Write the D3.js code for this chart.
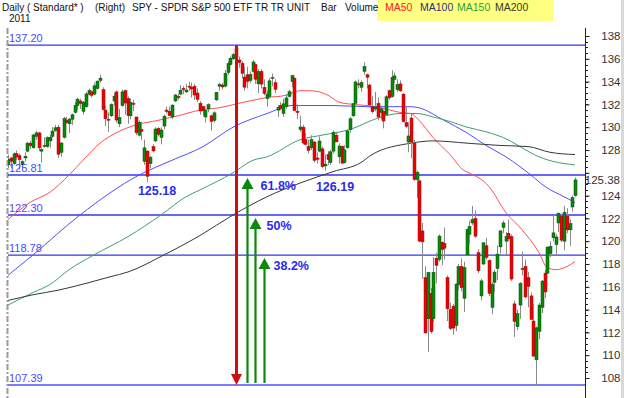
<!DOCTYPE html>
<html>
<head>
<meta charset="utf-8">
<script src="https://cdn.jsdelivr.net/npm/d3@7"></script>
<style>
  body { margin: 0; background: #fff; }
  svg text { font-family: "Liberation Sans", Arial, sans-serif; }
</style>
</head>
<body>
<svg id="chart" width="624" height="398"></svg>
<script>
// SPY daily 2011, Jan 3 .. Oct 24
const dates = [
  "01-03","01-04","01-05","01-06","01-07","01-10","01-11","01-12","01-13","01-14",
  "01-18","01-19","01-20","01-21","01-24","01-25","01-26","01-27","01-28","01-31",
  "02-01","02-02","02-03","02-04","02-07","02-08","02-09","02-10","02-11","02-14",
  "02-15","02-16","02-17","02-18","02-22","02-23","02-24","02-25","02-28","03-01",
  "03-02","03-03","03-04","03-07","03-08","03-09","03-10","03-11","03-14","03-15",
  "03-16","03-17","03-18","03-21","03-22","03-23","03-24","03-25","03-28","03-29",
  "03-30","03-31","04-01","04-04","04-05","04-06","04-07","04-08","04-11","04-12",
  "04-13","04-14","04-15","04-18","04-19","04-20","04-21","04-25","04-26","04-27",
  "04-28","04-29","05-02","05-03","05-04","05-05","05-06","05-09","05-10","05-11",
  "05-12","05-13","05-16","05-17","05-18","05-19","05-20","05-23","05-24","05-25",
  "05-26","05-27","05-31","06-01","06-02","06-03","06-06","06-07","06-08","06-09",
  "06-10","06-13","06-14","06-15","06-16","06-17","06-20","06-21","06-22","06-23",
  "06-24","06-27","06-28","06-29","06-30","07-01","07-05","07-06","07-07","07-08",
  "07-11","07-12","07-13","07-14","07-15","07-18","07-19","07-20","07-21","07-22",
  "07-25","07-26","07-27","07-28","07-29","08-01","08-02","08-03","08-04","08-05",
  "08-08","08-09","08-10","08-11","08-12","08-15","08-16","08-17","08-18","08-19",
  "08-22","08-23","08-24","08-25","08-26","08-29","08-30","08-31","09-01","09-02",
  "09-06","09-07","09-08","09-09","09-12","09-13","09-14","09-15","09-16","09-19",
  "09-20","09-21","09-22","09-23","09-26","09-27","09-28","09-29","09-30","10-03",
  "10-04","10-05","10-06","10-07","10-10","10-11","10-12","10-13","10-14","10-17",
  "10-18","10-19","10-20","10-21","10-24"
];

const openP = [
  126.70,127.30,126.80,127.70,127.50,126.70,127.30,127.90,128.60,128.20,
  129.20,129.50,127.90,128.40,128.30,128.80,129.20,129.70,130.00,127.80,
  129.10,130.60,130.30,130.70,131.30,131.90,132.30,131.40,131.80,132.90,
  133.10,132.90,133.40,134.10,133.30,131.50,130.70,131.00,132.30,133.10,
  130.30,131.90,133.20,132.50,131.00,132.10,130.90,129.30,129.80,127.00,
  127.90,126.80,128.30,128.80,129.90,129.10,130.10,131.50,131.40,130.90,
  132.30,132.70,132.90,133.40,133.10,133.60,133.50,133.60,133.00,132.10,
  131.80,130.90,131.60,131.00,130.60,132.40,133.60,133.70,133.60,134.80,
  135.50,136.00,136.90,135.90,135.60,134.40,134.60,134.10,134.90,135.50,
  133.80,134.90,133.50,132.50,132.70,134.30,133.90,131.50,131.90,131.20,
  131.80,132.70,134.00,134.30,131.40,129.80,130.00,128.90,128.30,128.20,
  128.70,127.30,127.90,128.10,126.60,127.60,126.90,127.90,129.30,127.40,
  128.30,126.90,128.20,129.80,131.00,132.10,133.80,133.50,134.90,134.60,
  133.70,131.80,131.60,132.10,131.30,131.40,131.10,133.20,132.70,134.20,
  133.30,133.80,132.90,130.40,128.70,130.80,128.60,125.40,125.30,120.90,
  116.80,113.20,115.40,113.20,118.50,118.40,119.90,119.80,116.80,114.00,
  114.30,112.60,116.20,117.80,115.00,118.80,120.60,121.60,122.00,119.00,
  115.20,118.00,119.60,118.30,114.20,116.40,117.60,119.50,121.20,120.00,
  120.70,120.40,114.50,112.50,114.40,117.60,117.80,116.80,115.20,113.00,
  109.60,112.10,114.20,117.20,117.20,118.90,120.30,119.70,121.60,122.20,
  120.00,122.20,121.00,123.00,124.00
];

const highP = [
  127.60,127.40,127.80,127.95,127.70,127.10,127.80,128.70,128.80,129.40,
  129.70,129.60,128.20,129.10,129.20,129.30,130.00,130.20,130.20,128.70,
  130.90,130.90,130.80,131.20,132.20,132.60,132.50,132.30,133.10,133.40,
  133.20,133.90,134.10,134.60,133.50,131.90,131.30,132.10,133.00,133.20,
  131.60,133.30,133.30,132.70,132.50,132.40,130.90,130.60,130.50,128.90,
  128.00,127.50,128.50,130.00,130.00,130.00,131.10,131.80,131.80,132.00,
  132.90,132.90,133.70,133.60,133.80,134.00,133.90,133.80,133.40,132.30,
  131.90,131.60,132.10,131.10,131.40,133.10,133.90,133.90,135.00,135.80,
  136.20,136.50,137.20,136.20,135.80,135.30,135.30,134.90,135.90,135.60,
  135.10,135.10,134.20,133.20,134.30,134.70,134.20,131.90,132.20,132.50,
  132.90,133.30,134.60,134.40,132.00,131.00,130.20,129.50,128.90,129.30,
  128.80,127.80,129.20,128.30,127.60,127.90,128.00,129.70,129.60,128.60,
  128.40,128.40,129.80,130.90,132.10,134.10,134.20,134.10,135.70,134.70,
  133.80,132.70,133.10,132.60,131.90,131.50,132.80,133.30,135.00,134.80,
  134.20,134.10,133.00,131.80,130.40,131.20,128.90,126.20,125.40,121.60,
  117.80,117.30,115.90,118.60,119.00,120.60,120.00,121.20,117.00,114.60,
  114.50,116.30,118.00,118.50,118.20,121.10,121.80,123.10,122.70,119.30,
  116.70,119.90,120.30,118.40,116.40,117.50,119.60,120.90,121.80,120.80,
  121.90,120.60,114.80,114.00,116.40,119.10,118.40,117.30,115.50,114.50,
  112.50,114.60,116.60,117.50,119.50,120.00,122.30,120.60,122.50,122.40,
  123.10,122.90,121.90,124.00,125.60
];

const lowP = [
  126.40,126.40,126.70,127.10,126.30,126.20,127.00,127.80,128.10,128.10,
  128.90,127.90,126.90,128.20,128.20,128.20,129.10,129.60,127.30,127.40,
  129.00,130.30,129.50,130.20,131.20,131.50,131.60,131.10,131.70,132.80,
  132.60,132.80,133.30,133.90,131.50,130.10,129.60,130.90,131.90,130.40,
  130.00,131.80,131.10,130.30,130.70,131.40,129.30,129.20,128.90,126.70,
  125.18,126.40,127.80,128.70,129.20,128.50,129.80,131.20,131.00,130.70,
  132.20,132.40,132.80,132.90,133.00,133.20,132.60,132.40,132.20,131.10,
  131.00,130.40,131.30,129.70,130.40,132.30,133.20,133.30,133.50,134.60,
  135.40,135.90,136.00,135.20,134.30,133.20,133.40,133.90,134.80,133.80,
  133.00,133.40,132.80,131.80,132.60,133.60,133.00,130.90,131.50,130.90,
  131.60,132.60,133.50,131.40,130.70,129.60,128.50,128.40,127.70,128.00,
  126.90,126.80,127.80,126.40,126.19,126.70,126.70,127.70,128.70,126.80,
  126.80,126.80,128.10,129.50,130.90,131.80,133.40,133.10,134.60,133.40,
  131.70,131.20,131.40,130.60,130.70,129.90,131.00,132.40,132.60,133.90,
  133.10,133.10,130.40,129.90,127.80,127.30,125.30,123.80,119.90,116.70,
  111.90,110.30,111.90,112.90,116.30,118.20,117.90,118.40,113.00,112.20,
  111.80,112.10,115.70,115.60,113.80,118.70,119.80,121.40,120.30,117.20,
  114.80,117.90,118.40,115.20,113.60,115.50,116.60,118.90,120.70,118.80,
  120.00,116.50,111.60,112.20,113.20,117.00,115.00,114.20,113.10,109.90,
  107.39,111.40,113.70,115.00,117.10,118.60,120.00,118.80,120.80,119.90,
  119.20,120.70,119.60,122.60,123.90
];

const closeP = [
  127.19,127.02,127.66,127.39,127.15,126.98,127.45,128.60,128.38,129.32,
  129.50,128.19,128.03,128.34,129.08,129.12,129.66,129.95,127.63,128.61,
  130.76,130.40,130.71,131.09,131.91,132.46,132.09,132.19,132.92,133.23,
  132.80,133.63,134.04,134.30,131.54,130.74,130.61,131.99,132.72,130.63,
  130.84,133.10,132.12,131.01,132.18,132.00,129.51,130.43,129.64,128.19,
  125.69,127.37,127.92,129.84,129.38,129.75,130.97,131.38,131.02,131.94,
  132.83,132.58,133.24,133.29,133.26,133.55,133.35,132.82,132.45,131.42,
  131.44,131.45,131.97,130.51,131.26,133.04,133.74,133.53,134.72,135.57,
  136.05,136.36,136.12,135.66,134.73,133.51,134.02,134.63,135.72,134.21,
  134.87,133.78,132.95,132.90,134.07,134.36,133.33,131.74,131.63,132.05,
  132.57,133.11,134.52,131.46,131.29,130.02,128.62,128.49,127.96,128.90,
  127.10,127.18,128.79,126.54,126.76,127.15,127.84,129.55,128.71,128.35,
  126.85,128.01,129.67,130.74,132.06,133.97,133.79,133.92,135.32,134.38,
  131.95,131.36,131.77,130.89,131.61,130.54,132.67,132.58,134.38,134.50,
  133.74,133.19,130.49,130.07,129.23,128.69,125.41,126.03,120.01,119.94,
  111.95,117.25,112.08,117.26,117.88,120.45,119.28,119.39,114.07,112.35,
  112.38,116.24,117.76,115.93,117.68,121.01,121.29,121.89,120.44,117.40,
  116.52,119.86,118.59,115.42,116.23,117.29,118.87,120.91,121.60,120.41,
  120.21,116.68,112.96,113.64,116.30,117.54,115.11,116.04,113.14,109.92,
  112.40,114.40,116.50,115.55,119.49,119.55,120.73,120.37,122.46,120.09,
  122.54,120.99,121.54,123.83,125.38
];

// moving averages: [day index, value]
const ma50 = [[0,121.9],[8,123.4],[15,124.3],[22,125.8],[27,127.1],[33,128.6],[39,129.5],
  [46,130.2],[54,130.6],[61,131.0],[69,131.5],[76,131.7],[83,132.1],[93,132.6],[100,132.8],
  [105,133.2],[109,133.2],[115,132.8],[119,132.2],[124,132.0],[129,131.9],[134,131.7],
  [141,131.3],[145,131.2],[148,130.6],[153,129.1],[159,127.6],[164,126.2],[166,126.0],
  [173,124.8],[179,122.5],[185,121.0],[191,119.0],[194,117.7],[197,117.5],[204,118.2]];
const ma100 = [[0,117.0],[9,118.8],[26,122.3],[47,125.8],[59,127.1],[70,128.3],[81,130.0],
  [93,131.2],[102,131.9],[117,131.9],[129,131.8],[145,131.8],[148,131.7],[157,130.6],
  [165,129.5],[172,128.4],[179,127.4],[188,125.8],[193,124.8],[200,123.9],[204,123.4]];
const ma150 = [[0,114.4],[9,115.5],[15,116.2],[22,117.5],[31,118.8],[43,120.4],[55,122.3],
  [64,123.9],[69,124.5],[81,126.0],[88,127.1],[93,127.4],[105,128.9],[113,129.3],[123,129.8],
  [133,130.8],[141,131.2],[147,131.2],[153,130.9],[159,130.5],[165,130.0],[172,129.6],
  [180,128.9],[184,128.3],[191,127.4],[196,127.0],[204,126.7]];
const ma200 = [[0,114.8],[9,115.3],[18,115.7],[28,116.3],[37,116.9],[43,117.3],[56,118.8],
  [69,120.5],[81,122.3],[93,123.9],[105,125.1],[117,126.1],[127,126.9],[131,127.6],
  [145,128.6],[153,128.8],[165,128.6],[177,128.4],[187,128.3],[195,127.8],[204,127.6]];

const maNames = ["MA50", "MA100", "MA150", "MA200"];
const maColors = ["#ff5050", "#5050ff", "#40a070", "#383838"];
const maLabelColors = ["#ff2020", "#303078", "#30a030", "#383820"];

const levels = [137.20, 125.81, 122.30, 118.78, 107.39];
const fibNames = ["61.8%", "50%", "38.2%"];
const fibLevels = [125.81, 122.30, 118.78];
const fibArrowDay = [86, 89, 92];
const swingLabels = [["125.18", 50, 125.18], ["126.19", 114, 126.19]];
const topDay = 82;
const yTicks = [108,110,112,114,116,118,120,122,124,126,128,130,132,134,136,138];
const lastPrice = 125.38;

// header pieces: text, left x
const headerText = [["Daily ( Standard* )", 2], ["(Right)", 95],
  ["SPY - SPDR S&P 500 ETF TR TR UNIT", 132], ["Bar", 321], ["Volume", 345]];
const maLabelX = [385, 420, 457, 495];

const svg = d3.select("#chart");
const W = 624, H = 398;
const plotL = 8, plotR = 585, plotT = 28, plotB = 398;

const x = d3.scaleBand().domain(dates).range([6.6, 6.6 + 2.78 * dates.length]).padding(0);
const xc = d => Math.round(x(d) + x.bandwidth() / 2);
const y = d3.scaleLinear().domain([108, 138]).range([378, 36]);

svg.append("rect").attr("width", W).attr("height", H).attr("fill", "#fff");

const defs = svg.append("defs");
defs.append("clipPath").attr("id", "plot")
  .append("rect").attr("x", plotL).attr("y", plotT).attr("width", plotR - plotL).attr("height", plotB - plotT);
defs.append("clipPath").attr("id", "hideUnderTag")
  .append("rect").attr("x", -10).attr("y", -20).attr("width", 60).attr("height", 14);

// header
const header = svg.append("g").attr("font-size", 10).attr("fill", "#111");
header.append("rect").attr("x", 377).attr("y", 0).attr("width", 176).attr("height", 21).attr("fill", "#ffff80");
headerText.forEach(t => header.append("text").attr("x", t[1]).attr("y", 11).text(t[0]));
header.append("text").attr("x", 9).attr("y", 22).text("2011");
maLabelX.forEach((px, i) => header.append("text").attr("x", px).attr("y", 11)
  .attr("font-size", 10.5).attr("fill", maLabelColors[i]).text(maNames[i]));

// left dashed border
svg.append("line").attr("x1", 7.5).attr("x2", 7.5).attr("y1", plotT).attr("y2", plotB)
  .attr("stroke", "#999").attr("stroke-width", 2).attr("stroke-dasharray", "6,2,2,2");

// right axis
const yAxis = svg.append("g").attr("transform", `translate(${plotR + 0.5},0)`)
  .call(d3.axisRight(y).tickValues(yTicks).tickSize(4).tickSizeOuter(0).tickPadding(14).tickFormat(d3.format("d")));
yAxis.select(".domain").remove();
yAxis.selectAll(".tick line").attr("stroke", "#222");
yAxis.selectAll("text").attr("font-size", 11.5).attr("fill", "#333")
  .attr("text-anchor", "end").attr("x", 35)
  .attr("font-family", "'Liberation Sans', Arial, sans-serif");
// the last-price tag hides the lower part of the 126 label
yAxis.selectAll(".tick").filter(d => d === 126).select("text").attr("clip-path", "url(#hideUnderTag)");
svg.append("line").attr("x1", plotR + 0.5).attr("x2", plotR + 0.5).attr("y1", plotT).attr("y2", plotB).attr("stroke", "#222");
svg.append("g").selectAll("line").data(d3.range(108, 138.1, 0.5))
  .join("line").attr("x1", plotR).attr("x2", plotR + 3)
  .attr("y1", d => Math.round(y(d)) + 0.5).attr("y2", d => Math.round(y(d)) + 0.5).attr("stroke", "#222");

const plot = svg.append("g").attr("clip-path", "url(#plot)");

// fib levels
levels.forEach((v, i) => {
  plot.append("line").attr("x1", plotL).attr("x2", plotR).attr("y1", y(v)).attr("y2", y(v))
    .attr("stroke", i === 4 ? "#7b7bff" : "#3535f0").attr("stroke-width", i === 4 ? 2 : 1.4);
  svg.append("text").attr("x", 9).attr("y", y(v) - 3).attr("font-size", 11).attr("fill", "#4a4aff")
    .text(v.toFixed(2));
});

// moving averages
const maLine = d3.line().x(d => xc(dates[d[0]])).y(d => y(d[1])).curve(d3.curveMonotoneX);
[ma50, ma100, ma150, ma200].forEach((m, i) => {
  plot.append("path").attr("d", maLine(m)).attr("fill", "none")
    .attr("stroke", maColors[i]).attr("stroke-width", 1);
});

// candles
const candles = plot.append("g").selectAll("g").data(dates).join("g");
candles.append("line")
  .attr("x1", d => xc(d) + 0.5).attr("x2", d => xc(d) + 0.5)
  .attr("y1", (d, i) => y(highP[i])).attr("y2", (d, i) => y(lowP[i]))
  .attr("stroke", "#8a8a8a").attr("stroke-width", 1);
candles.append("rect")
  .attr("x", d => xc(d) - 1)
  .attr("width", 3)
  .attr("y", (d, i) => y(Math.max(openP[i], closeP[i])))
  .attr("height", (d, i) => Math.max(1, Math.abs(y(openP[i]) - y(closeP[i]))))
  .attr("fill", (d, i) => closeP[i] >= openP[i] ? "#078a07" : "#f00000")
  .attr("stroke", (d, i) => closeP[i] >= openP[i] ? "#0a4a0a" : "#901010")
  .attr("stroke-width", 0.5);

// retracement arrows
const xTop = xc(dates[topDay]) + 0.5;
plot.append("line").attr("x1", xTop).attr("x2", xTop).attr("y1", y(137.20)).attr("y2", y(107.39) - 10)
  .attr("stroke", "#cc1010").attr("stroke-width", 3);
plot.append("path").attr("fill", "#cc1010")
  .attr("d", `M${xTop - 5.5},${y(107.39) - 11}L${xTop + 5.5},${y(107.39) - 11}L${xTop},${y(107.39)}Z`);

fibLevels.forEach((v, i) => {
  const gx = xc(dates[fibArrowDay[i]]) + 0.5;
  const tip = y(v) + 3;
  plot.append("line").attr("x1", gx).attr("x2", gx).attr("y1", y(107.39) - 2).attr("y2", tip + 8)
    .attr("stroke", "#0a8a0a").attr("stroke-width", 2.2);
  plot.append("path").attr("fill", "#0a8a0a")
    .attr("d", `M${gx - 6},${tip + 11}L${gx + 6},${tip + 11}L${gx},${tip}Z`);
  svg.append("text").attr("x", gx + 13 - i * 2).attr("y", y(v) + 15).attr("font-size", 12.5)
    .attr("font-weight", "bold").attr("fill", "#2a2aee").text(fibNames[i]);
});

swingLabels.forEach(s => {
  svg.append("text").attr("x", xc(dates[s[1]]) + 10).attr("y", y(s[2]) + (s[1] === 50 ? 13 : 20))
    .attr("text-anchor", "middle").attr("font-size", 12.5).attr("font-weight", "bold")
    .attr("fill", "#2a2aee").text(s[0]);
});

// last price tag
svg.append("rect").attr("x", 591).attr("y", y(lastPrice) - 6).attr("width", 30).attr("height", 12).attr("fill", "#fff");
svg.append("text").attr("x", 620).attr("y", y(lastPrice) + 4).attr("text-anchor", "end")
  .attr("font-size", 11.5).attr("fill", "#333").text(lastPrice.toFixed(2));

// right window edge
svg.append("rect").attr("x", 621).attr("y", 0).attr("width", 3).attr("height", H).attr("fill", "#d8d8d8");
</script>
</body>
</html>
